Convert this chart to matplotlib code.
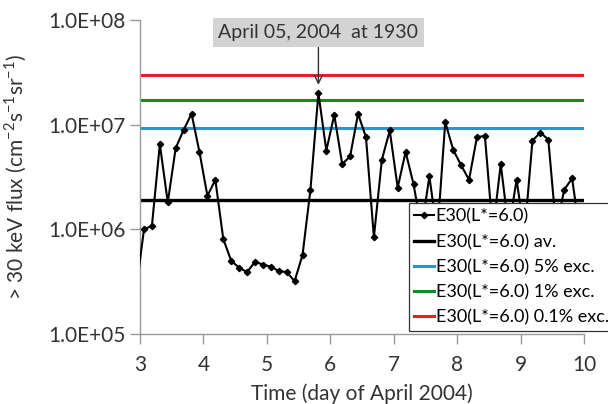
import matplotlib.pyplot as plt
import numpy as np

plt.rcParams['font.family'] = ['Lato', 'DejaVu Sans']

# 3-hourly E30 flux at L*=6.0, bin centres (day of April 2004)
t = 2.9375 + 0.125 * np.arange(57)
flux = [2.6e5,
        1.0e6, 1.08e6, 6.5e6, 1.81e6, 5.97e6, 8.9e6, 1.27e7, 5.47e6,
        2.09e6, 2.97e6, 8.1e5, 5.0e5, 4.3e5, 3.9e5, 4.9e5, 4.6e5,
        4.4e5, 4.0e5, 3.9e5, 3.2e5, 5.7e5, 2.4e6, 2.0e7, 5.66e6,
        1.24e7, 4.2e6, 4.97e6, 1.27e7, 7.6e6, 8.4e5, 4.6e6, 8.8e6,
        2.5e6, 5.5e6, 2.7e6, 1.0e6, 3.2e6, 9.0e5, 1.06e7, 5.75e6,
        4.1e6, 2.97e6, 7.6e6, 7.8e6, 9.5e5, 4.2e6, 1.0e6, 2.97e6,
        9.0e5, 7.05e6, 8.4e6, 7.2e6, 1.0e6, 2.39e6, 3.06e6, 9.0e5]

# reference levels
f_av = 1.89e6
f_5 = 9.3e6
f_1 = 1.73e7
f_01 = 2.97e7

fig = plt.figure(figsize=(6.08, 4.04), dpi=100)
ax = fig.add_axes([0.2303, 0.1733, 0.7302, 0.7772])

ax.plot(t, flux, 'k-', marker='D', markersize=3.2, linewidth=1.5, label='E30(L*=6.0)', zorder=5)
ax.axhline(f_av, color='black', linewidth=2.4, label='E30(L*=6.0) av.')
ax.axhline(f_5, color='#1e9bd7', linewidth=2.2, label='E30(L*=6.0) 5% exc.')
ax.axhline(f_1, color='#138a24', linewidth=2.2, label='E30(L*=6.0) 1% exc.')
ax.axhline(f_01, color='#ee1c25', linewidth=2.2, label='E30(L*=6.0) 0.1% exc.')

ax.set_yscale('log')
ax.set_xlim(3, 10)
ax.set_ylim(1e5, 1e8)
ax.set_yticks([1e5, 1e6, 1e7, 1e8])
ax.set_yticklabels(['1.0E+05', '1.0E+06', '1.0E+07', '1.0E+08'])
ax.yaxis.set_minor_locator(plt.NullLocator())
ax.set_xticks(range(3, 11))

for s in ['top', 'right']:
    ax.spines[s].set_visible(False)
for s in ['left', 'bottom']:
    ax.spines[s].set_color('#999999')
    ax.spines[s].set_linewidth(1.0)
ax.tick_params(colors='#999999', labelcolor='#333333', labelsize=15, length=7, width=1.0)
ax.tick_params(axis='x', pad=8)

ax.set_xlabel('Time (day of April 2004)', fontsize=15, color='#333333', labelpad=6)
ax.set_ylabel(r'> 30 keV flux (cm$^{\mathregular{-2}}$s$^{\mathregular{-1}}$sr$^{\mathregular{-1}}$)',
              fontsize=15, color='#333333', labelpad=14)

ax.annotate('April 05, 2004  at 1930', xy=(t[23], flux[23] * 1.2), xytext=(t[23] + 0.0, 7.6e7),
            ha='center', va='center', fontsize=14, color='#333333',
            bbox=dict(boxstyle='square,pad=0.3', fc='#d3d3d3', ec='none'),
            arrowprops=dict(arrowstyle='->', color='#333333', lw=1.0, shrinkA=0, shrinkB=0))

leg = ax.legend(loc='lower left', bbox_to_anchor=(0.605, 0.01), fontsize=13,
                frameon=True, fancybox=False, framealpha=1, edgecolor='#333333',
                handlelength=1.1, handletextpad=0.1, borderpad=0.3, labelspacing=0.5,
                borderaxespad=0)
leg.get_frame().set_linewidth(0.9)
leg.set_zorder(10)

fig.savefig('out.png', dpi=100)
